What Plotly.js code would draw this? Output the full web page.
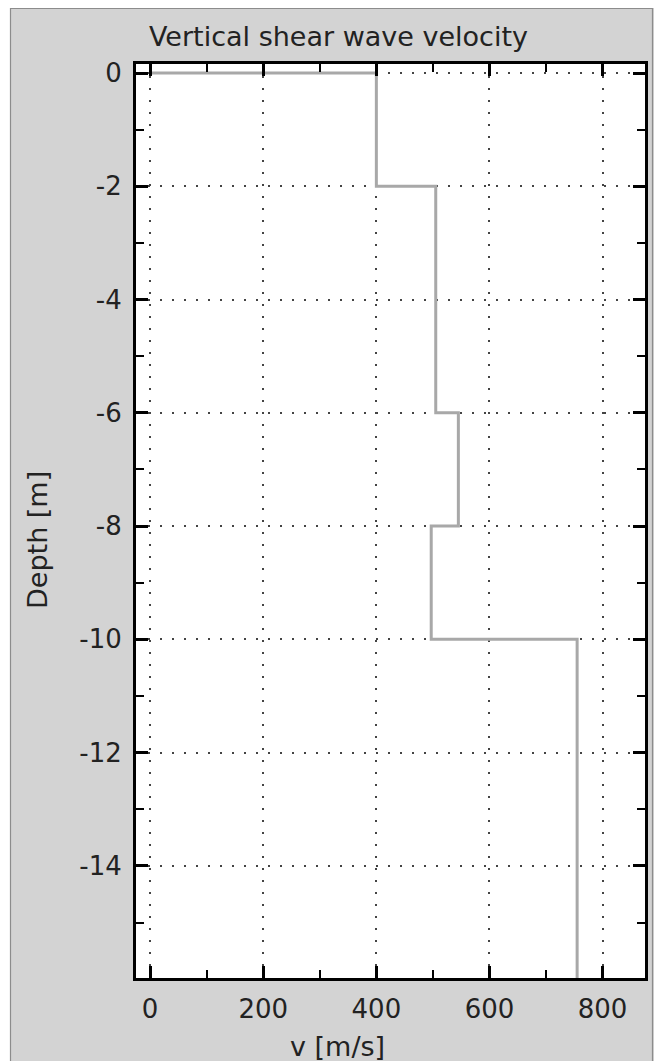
<!DOCTYPE html>
<html><head><meta charset="utf-8">
<script src="https://cdn.plot.ly/plotly-3.0.1.min.js"></script>
<style>html,body{margin:0;padding:0;background:#fff;}</style>
</head><body>
<div id="chart" style="width:654px;height:1061px;"></div>
<script>
// ---- data ----
const layerTop = [0, -2, -6, -8, -10];
const layerBottom = [-2, -6, -8, -10, -16];
const velocity = [400, 505, 545, 497, 755];
const surfaceVelocity = 0;
const xTickVals = [0, 200, 400, 600, 800];
const yTickVals = [0, -2, -4, -6, -8, -10, -12, -14];
const xTickText = ['0', '200', '400', '600', '800'];
const yTickText = ['0', '-2', '-4', '-6', '-8', '-10', '-12', '-14'];
const titleText = 'Vertical shear wave velocity';
const xTitle = 'v [m/s]';
const yTitle = 'Depth [m]';

// build step profile from the layer arrays
const xs = [surfaceVelocity], ys = [layerTop[0]];
for (let i = 0; i < velocity.length; i++) {
  xs.push(velocity[i], velocity[i]);
  ys.push(layerTop[i], layerBottom[i]);
}

// ---- layout geometry (pixels) ----
const W = 654, H = 1061;
const L = 136, R = 645, T = 64, B = 978;
const pw = R - L, ph = B - T;
const px = p => (p - L) / pw;
const py = p => (B - p) / ph;

const FONT = 'DejaVu Sans, Verdana, sans-serif';
const tickFont = {family: FONT, size: 26, color: '#222'};

const trace = {
  x: xs, y: ys, type: 'scatter', mode: 'lines',
  line: {color: '#a8a8a8', width: 3},
  hoverinfo: 'skip', showlegend: false
};

const axisCommon = {
  showline: true, linecolor: '#000', linewidth: 3, mirror: 'ticks',
  ticks: 'inside', ticklen: 12, tickwidth: 3, tickcolor: '#000',
  showgrid: true, gridcolor: '#444', gridwidth: 2, griddash: '2px,10px',
  zeroline: false, tickfont: tickFont, fixedrange: true, tickmode: 'array'
};

const layout = {
  width: W, height: H,
  margin: {l: L, r: W - R, t: T, b: H - B, pad: 0},
  paper_bgcolor: '#d3d3d3', plot_bgcolor: '#ffffff',
  showlegend: false,
  xaxis: Object.assign({}, axisCommon, {
    range: [-25, 875], tickvals: xTickVals, ticktext: xTickText,
    minor: {ticks: 'inside', ticklen: 8, tickwidth: 2, tickcolor: '#000', tick0: 0, dtick: 100, showgrid: false},
    ticklabelstandoff: 6
  }),
  yaxis: Object.assign({}, axisCommon, {
    range: [-15.98, 0.16], tickvals: yTickVals, ticktext: yTickText,
    minor: {ticks: 'inside', ticklen: 8, tickwidth: 2, tickcolor: '#000', tick0: 0, dtick: 1, showgrid: false},
    ticklabelstandoff: 6
  }),
  annotations: [
    {text: titleText, xref: 'paper', yref: 'paper', x: px(338), y: py(36),
     xanchor: 'center', yanchor: 'middle', showarrow: false,
     font: {family: FONT, size: 27, color: '#222'}},
    {text: xTitle, xref: 'paper', yref: 'paper', x: px(337), y: py(1046),
     xanchor: 'center', yanchor: 'middle', showarrow: false,
     font: {family: FONT, size: 27, color: '#222'}},
    {text: yTitle, xref: 'paper', yref: 'paper', x: px(37), y: py(540),
     xanchor: 'center', yanchor: 'middle', showarrow: false, textangle: -90,
     font: {family: FONT, size: 27, color: '#222'}}
  ],
  shapes: [
    {type: 'rect', xref: 'paper', yref: 'paper', layer: 'above',
     x0: px(0), x1: px(W), y0: py(0), y1: py(8), fillcolor: '#ffffff', line: {width: 0}},
    {type: 'rect', xref: 'paper', yref: 'paper', layer: 'above',
     x0: px(0), x1: px(10), y0: py(0), y1: py(H), fillcolor: '#ffffff', line: {width: 0}},
    {type: 'rect', xref: 'paper', yref: 'paper', layer: 'above',
     x0: px(10.5), x1: px(652.5), y0: py(8.5), y1: py(H + 2), fillcolor: 'rgba(0,0,0,0)',
     line: {color: '#8c8c8c', width: 1.2}}
  ]
};

Plotly.newPlot('chart', [trace], layout, {staticPlot: true, displayModeBar: false});
</script>
</body></html>
